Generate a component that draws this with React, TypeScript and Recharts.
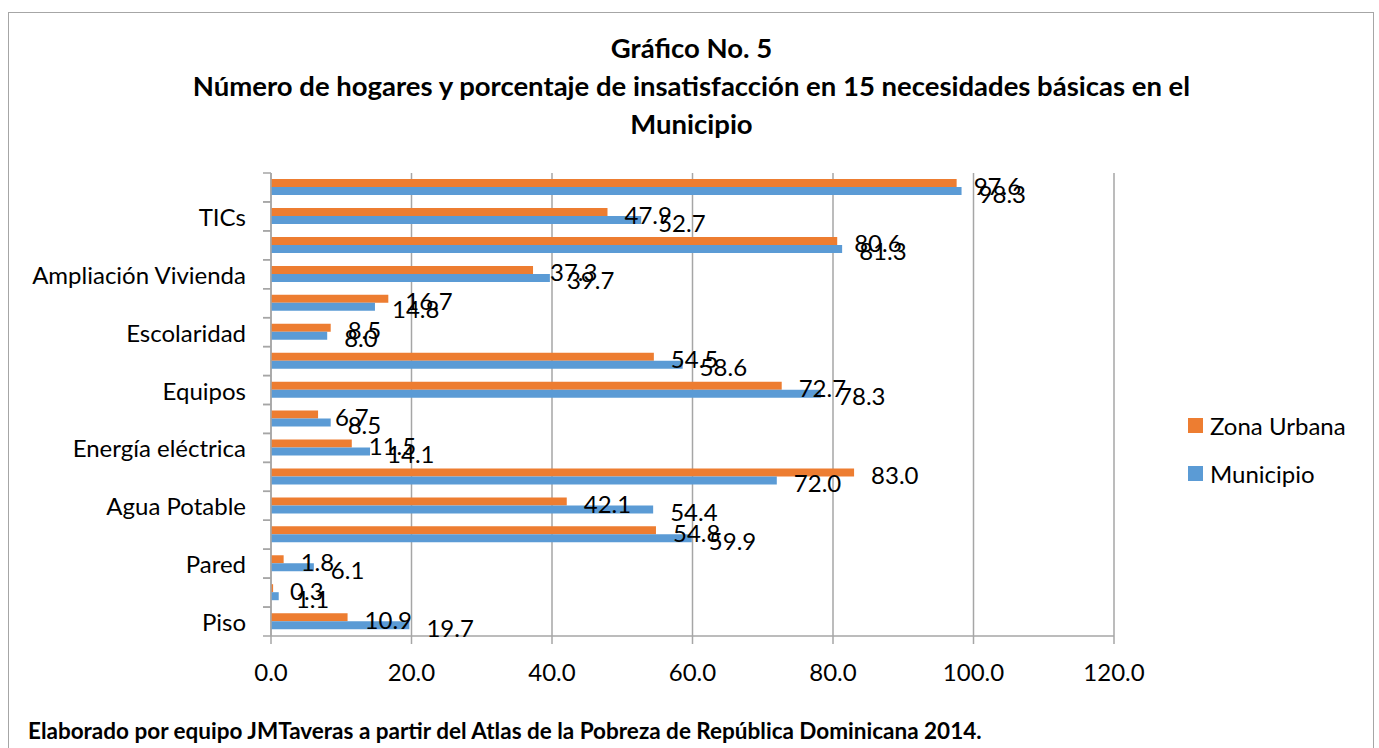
import React from 'react';
import { BarChart, Bar, XAxis, YAxis, CartesianGrid, LabelList } from 'recharts';

// categories from bottom to top (only every other one is labelled in the chart)
const categories = [
  'Piso',
  'Techo',
  'Pared',
  'Hacinamiento',
  'Agua Potable',
  'Servicio Sanitario',
  'Energía eléctrica',
  'Combustible para cocinar',
  'Equipos',
  'Asistencia escolar',
  'Escolaridad',
  'Rezago escolar',
  'Ampliación Vivienda',
  'Eliminación de basura',
  'TICs',
  'Protección social',
];
const zonaUrbana = [10.9, 0.3, 1.8, 54.8, 42.1, 83.0, 11.5, 6.7, 72.7, 54.5, 8.5, 16.7, 37.3, 80.6, 47.9, 97.6];
const municipio = [19.7, 1.1, 6.1, 59.9, 54.4, 72.0, 14.1, 8.5, 78.3, 58.6, 8.0, 14.8, 39.7, 81.3, 52.7, 98.3];
const xTicks = [0, 20, 40, 60, 80, 100, 120];

const ORANGE = '#ED7D31';
const BLUE = '#5B9BD5';
const GRID = '#A6A6A6';
const FONT = 'Lato, "Open Sans", sans-serif';
const AXIS_FS = 24;

const legendItems = [
  { name: 'Zona Urbana', color: ORANGE },
  { name: 'Municipio', color: BLUE },
];

const TICK_SIZE = 8;
const TICK_MARGIN = 17;

const CategoryTick = (props: any) => {
  const { x, y, payload, index } = props;
  const axisX = x + TICK_SIZE + TICK_MARGIN;
  const half = payload && payload.offset ? payload.offset : 14.5;
  return (
    <g>
      <line x1={axisX - TICK_SIZE} x2={axisX} y1={y - half} y2={y - half} stroke={GRID} strokeWidth={1.5} />
      <line x1={axisX - TICK_SIZE} x2={axisX} y1={y + half} y2={y + half} stroke={GRID} strokeWidth={1.5} />
      {index % 2 === 0 && (
        <text x={x} y={y} textAnchor="end" dominantBaseline="central" fontSize={AXIS_FS} fontFamily={FONT} fill="#000">
          {payload.value}
        </text>
      )}
    </g>
  );
};

const ValueLabel = (props: any) => {
  const { x, y, width, height, value } = props;
  return (
    <text
      x={x + width + 17}
      y={y + height / 2 + 2}
      dominantBaseline="central"
      fontSize={AXIS_FS}
      fontFamily={FONT}
      fill="#000"
    >
      {Number(value).toFixed(1)}
    </text>
  );
};

export default function App() {
  const data = categories.map((name, i) => ({
    name,
    zona: zonaUrbana[i],
    municipio: municipio[i],
  }));

  return (
    <div style={{ position: 'absolute', left: 0, top: 0, width: 1379, height: 748, background: '#fff', overflow: 'hidden' }}>
      <div
        style={{
          position: 'absolute',
          left: 8,
          top: 12,
          width: 1366,
          height: 760,
          border: '1px solid #A6A6A6',
          boxSizing: 'border-box',
        }}
      />
      <div
        style={{
          position: 'absolute',
          left: 0,
          top: 29,
          width: 1383,
          textAlign: 'center',
          fontFamily: FONT,
          fontWeight: 'bold',
          fontSize: 27.5,
          lineHeight: '38px',
          color: '#000',
          whiteSpace: 'nowrap',
        }}
      >
        <div>Gráfico No. 5</div>
        <div>Número de hogares y porcentaje de insatisfacción en 15 necesidades básicas en el</div>
        <div>Municipio</div>
      </div>
      <div style={{ position: 'absolute', left: 0, top: 0 }}>
        <BarChart
          width={1379}
          height={748}
          data={data}
          layout="vertical"
          margin={{ top: 173, right: 265, bottom: 82, left: 8 }}
          barCategoryGap="21%"
          barGap={0}
        >
          <CartesianGrid horizontal={false} vertical stroke={GRID} strokeWidth={1.5} />
          <XAxis
            type="number"
            domain={[0, 120]}
            ticks={xTicks}
            tickFormatter={(v: number) => v.toFixed(1)}
            stroke={GRID}
            strokeWidth={1.5}
            tickSize={8}
            tickMargin={20}
            tick={{ fill: '#000', fontSize: AXIS_FS, fontFamily: FONT }}
            height={30}
          />
          <YAxis
            type="category"
            dataKey="name"
            reversed
            width={263}
            interval={0}
            tickLine={false}
            tickSize={TICK_SIZE}
            tickMargin={TICK_MARGIN}
            stroke={GRID}
            strokeWidth={1.5}
            tick={<CategoryTick />}
          />
          <Bar dataKey="zona" name="Zona Urbana" fill={ORANGE} isAnimationActive={false}>
            <LabelList dataKey="zona" content={<ValueLabel />} />
          </Bar>
          <Bar dataKey="municipio" name="Municipio" fill={BLUE} isAnimationActive={false}>
            <LabelList dataKey="municipio" content={<ValueLabel />} />
          </Bar>
        </BarChart>
      </div>
      <div style={{ position: 'absolute', left: 1188, top: 413, fontFamily: FONT, fontSize: AXIS_FS, color: '#000' }}>
        {legendItems.map((it) => (
          <div key={it.name} style={{ display: 'flex', alignItems: 'center', height: 24, marginBottom: 24, whiteSpace: 'nowrap' }}>
            <span style={{ display: 'inline-block', width: 15, height: 15, background: it.color, marginRight: 7 }} />
            <span>{it.name}</span>
          </div>
        ))}
      </div>
      <div
        style={{
          position: 'absolute',
          left: 28,
          top: 718,
          fontFamily: FONT,
          fontWeight: 'bold',
          fontSize: 22.5,
          lineHeight: '26px',
          color: '#000',
          whiteSpace: 'nowrap',
        }}
      >
        Elaborado por equipo JMTaveras a partir del Atlas de la Pobreza de República Dominicana 2014.
      </div>
    </div>
  );
}
